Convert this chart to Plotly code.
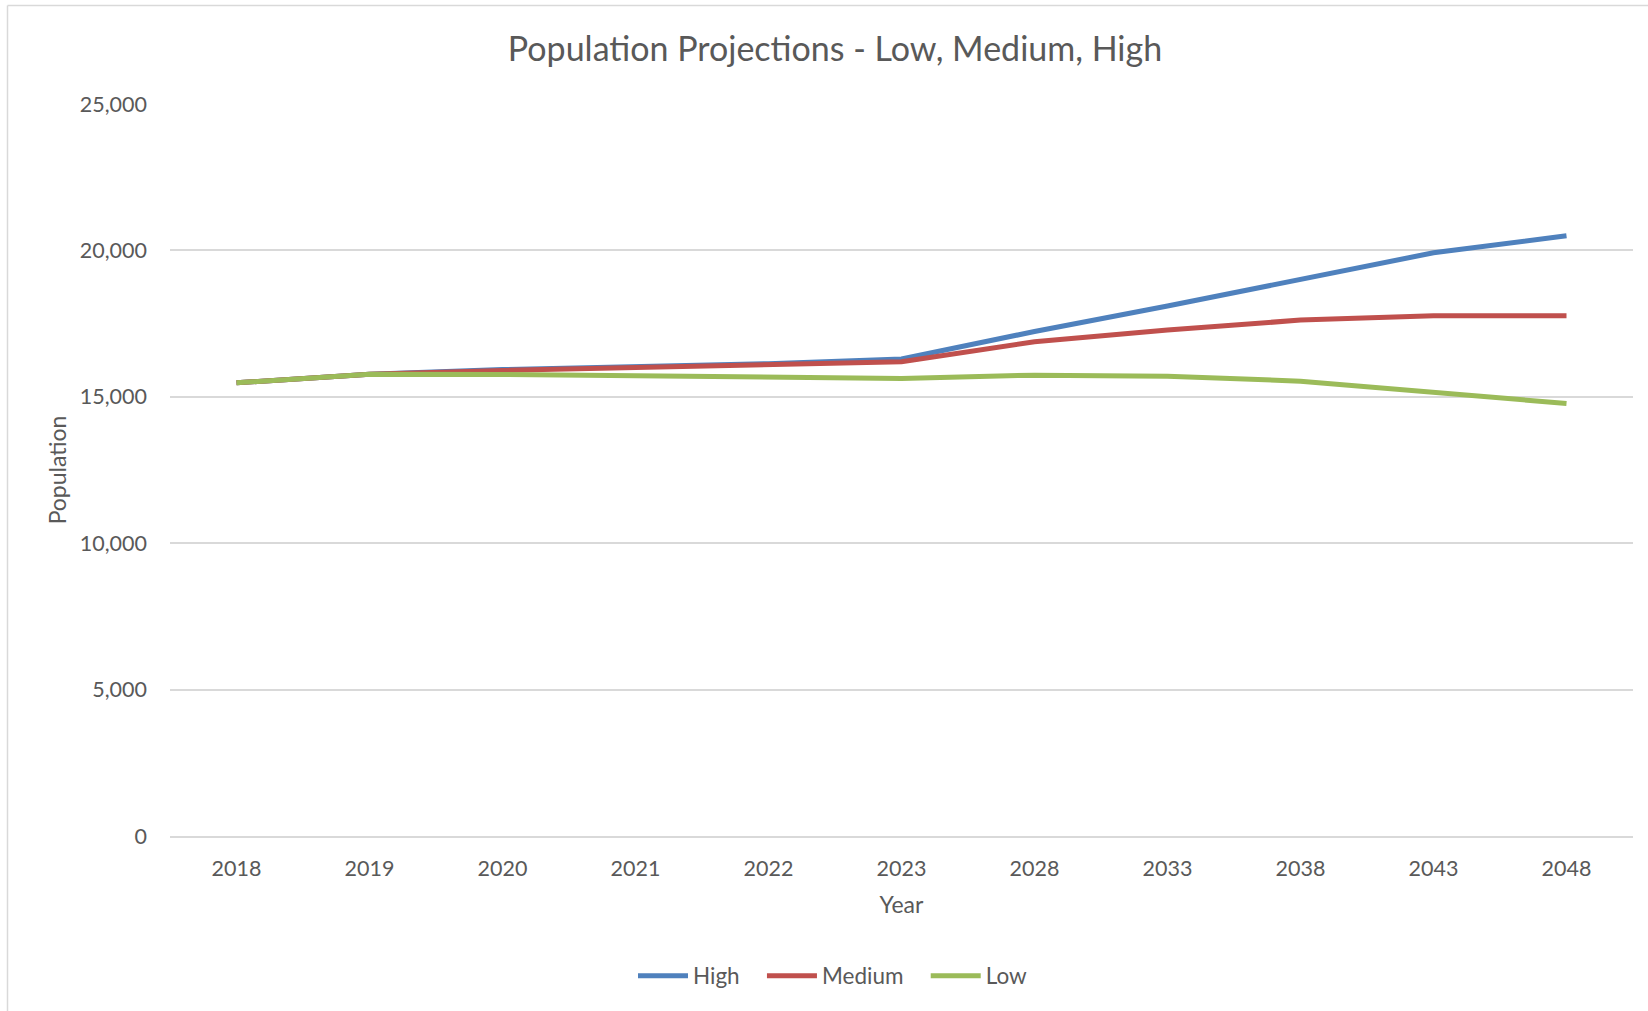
import plotly.graph_objects as go

years = ["2018", "2019", "2020", "2021", "2022", "2023", "2028", "2033", "2038", "2043", "2048"]
high = [15480, 15770, 15930, 16020, 16130, 16290, 17230, 18100, 19010, 19920, 20500]
medium = [15480, 15770, 15900, 15990, 16080, 16200, 16880, 17280, 17620, 17770, 17770]
low = [15480, 15770, 15760, 15730, 15685, 15627, 15740, 15706, 15535, 15170, 14773]

series = [("High", high, "#4F81BD"), ("Medium", medium, "#C0504D"), ("Low", low, "#9BBB59")]

FONT = "Lato"
GREY = "#595959"

fig = go.Figure()
for name, vals, col in series:
    fig.add_trace(go.Scatter(x=years, y=vals, name=name + "   ", mode="lines",
                             line=dict(color=col, width=5, shape="linear")))

L, R, T, B = 170, 15, 104, 175
W, H = 1648, 1011
pw = W - L - R
ph = H - T - B

fig.update_layout(
    width=W, height=H,
    margin=dict(l=L, r=R, t=T, b=B, pad=0),
    paper_bgcolor="white", plot_bgcolor="white",
    font=dict(family=FONT, color=GREY, size=21),
    title=dict(text="Population Projections - Low, Medium, High",
               x=835 / W, xref="container", xanchor="center",
               y=1 - 49 / H, yref="container", yanchor="middle",
               font=dict(size=34, color=GREY, family=FONT)),
    xaxis=dict(type="category", range=[-0.5, 10.5], showgrid=False, showline=True,
               linecolor="#d9d9d9", linewidth=1.5,
               ticks="", ticklabelstandoff=12, tickfont=dict(size=21.5, color=GREY),
               title=dict(text="Year", standoff=17, font=dict(size=23, color=GREY)),
               zeroline=False),
    yaxis=dict(range=[0, 25000], dtick=5000, tickformat=",", showgrid=True,
               gridcolor="#d9d9d9", gridwidth=1.5, zeroline=False, showline=False,
               ticks="", ticklabelstandoff=22, tickfont=dict(size=21.5, color=GREY),
               title=dict(text="Population", standoff=6, font=dict(size=23, color=GREY))),
    legend=dict(orientation="h", x=841 / W, xref="container", xanchor="center",
                y=1 - 976 / H, yref="container", yanchor="middle",
                font=dict(size=22.5, color=GREY), itemwidth=50,
                traceorder="normal"),
    showlegend=True,
)

# chart area border (left and top edges visible)
x_left = (7.5 - L) / pw
y_top = 1 + (T - 5.5) / ph
fig.add_shape(type="line", xref="paper", yref="paper", x0=x_left, x1=x_left, y0=y_top, y1=-1,
              line=dict(color="#d9d9d9", width=1.5))
fig.add_shape(type="line", xref="paper", yref="paper", x0=x_left, x1=2, y0=y_top, y1=y_top,
              line=dict(color="#d9d9d9", width=1.5))

fig.write_html("out.html")
